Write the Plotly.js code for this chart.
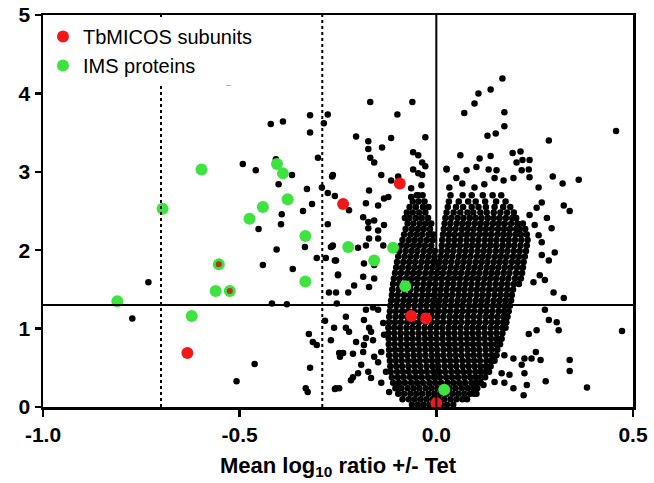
<!DOCTYPE html>
<html>
<head>
<meta charset="utf-8">
<script src="https://cdn.plot.ly/plotly-3.0.1.min.js"></script>
<style>html,body{margin:0;padding:0;background:#fff;}#chart{width:654px;height:483px;}</style>
</head>
<body>
<div id="chart"></div>
<script>
// ---- Data ----
const seriesNames = ["TbMICOS subunits", "IMS proteins"];

// TbMICOS subunits (red)
const redX = [-0.633, -0.237, -0.093, -0.064, -0.026, 0.0];
const redY = [0.69, 2.59, 2.85, 1.16, 1.13, 0.05];

// IMS proteins (green)
const greenX = [-0.528, -0.597, -0.696, -0.405, -0.390, -0.378, -0.441, -0.475, -0.333, -0.553, -0.561, -0.525, -0.333, -0.811, -0.622, -0.224, -0.110, -0.158, -0.079, 0.020];
const greenY = [4.17, 3.03, 2.53, 3.10, 2.98, 2.65, 2.55, 2.40, 2.18, 1.82, 1.48, 1.48, 1.60, 1.35, 1.16, 2.04, 2.03, 1.87, 1.54, 0.22];

// proteins in both groups (red centre on green)
const bothX = [-0.553, -0.525];
const bothY = [1.82, 1.48];

// all other proteins: scattered ones
const blackX = [
 -0.321,-0.276,-0.421,-0.390,-0.321,-0.286,-0.492,-0.459,-0.408,-0.367,-0.401,-0.301,-0.265,-0.329,-0.291,-0.276,-0.258,-0.316,-0.339,-0.393,
 -0.395,-0.452,-0.276,-0.334,-0.265,-0.406,-0.441,-0.365,-0.304,-0.281,-0.258,-0.268,-0.250,-0.273,-0.418,-0.380,-0.253,-0.283,-0.260,-0.324,
 -0.314,-0.304,-0.268,-0.247,-0.462,-0.508,-0.321,-0.332,-0.327,-0.258,-0.247,-0.732,-0.773,
 -0.168,-0.061,-0.099,-0.204,-0.173,-0.115,-0.138,-0.173,-0.168,-0.158,-0.028,-0.059,-0.046,-0.036,-0.028,-0.059,-0.046,-0.036,-0.140,-0.097,
 -0.115,-0.038,-0.064,-0.171,-0.263,-0.046,-0.064,-0.122,0.026,
 -0.222,-0.179,-0.148,-0.133,-0.186,-0.173,-0.158,-0.133,-0.173,-0.148,-0.263,-0.255,-0.199,-0.179,-0.171,-0.148,-0.135,-0.184,-0.158,-0.186,
 -0.158,-0.171,-0.250,-0.224,-0.255,-0.209,
 -0.230,-0.230,-0.222,-0.184,-0.171,-0.166,-0.204,-0.184,-0.179,-0.161,-0.237,-0.212,-0.245,-0.186,-0.158,-0.148,-0.140,-0.191,-0.173,-0.212,
 -0.199,-0.166,-0.217,-0.255,-0.140,-0.128,-0.120,-0.097,-0.161,-0.179,-0.148,-0.135,-0.133,
 0.168,0.138,0.107,0.097,0.071,0.173,0.173,0.151,0.130,0.286,0.457,0.061,0.026,0.110,0.138,0.194,0.214,0.237,0.219,0.204,
 0.235,0.217,0.296,0.321,0.362,0.260,0.077,0.102,0.133,0.153,0.051,0.066,0.097,0.122,0.148,0.171,0.196,0.237,0.033,
 0.324,0.276,0.286,0.306,0.311,0.255,0.472,0.235,0.253,0.265,0.339,0.339,0.224,0.242,0.278,0.383,0.230,0.222,0.196,0.173,
 0.166,0.186,0.148,0.120,0.102,0.217,0.173,0.196,0.224,
 0.324,0.339,0.293,0.281,0.301,0.268,0.286,0.263,0.276,0.298,0.247,0.260,0.268,0.250,0.237,0.268,0.255
];
const blackY = [
 3.72,3.73,3.61,3.64,3.50,3.62,3.10,3.02,3.16,2.96,2.84,3.18,2.94,2.78,2.80,2.73,2.69,2.59,2.50,2.46,
 2.33,2.27,2.33,2.04,2.05,2.01,1.81,1.76,1.90,1.90,1.87,2.04,1.69,1.46,1.32,1.31,1.32,1.10,1.01,0.93,
 0.83,0.79,0.85,0.69,0.55,0.33,0.50,0.24,0.19,0.23,0.24,1.59,1.13,
 3.89,3.89,3.73,3.45,3.39,3.43,3.31,3.29,3.18,3.12,3.44,3.25,3.21,3.12,3.07,3.03,2.98,2.96,2.96,2.94,
 2.89,2.83,2.79,2.76,2.96,2.70,2.68,2.68,3.03,
 2.51,2.60,2.57,2.66,2.42,2.36,2.38,2.32,2.28,2.25,2.06,1.87,2.03,2.06,2.15,2.15,2.06,1.83,1.81,1.66,
 1.64,1.53,1.68,1.46,1.46,1.55,
 1.15,1.01,0.96,1.11,1.01,0.96,0.83,0.79,0.88,0.85,0.69,0.68,0.64,0.70,0.64,0.57,0.70,0.54,0.45,0.38,
 0.43,0.37,0.34,0.24,0.31,0.45,0.19,0.25,1.27,1.24,1.24,1.07,0.92,
 4.19,4.05,4.00,3.87,3.75,3.76,3.58,3.49,3.46,3.40,3.52,3.21,3.04,3.17,3.20,3.24,3.26,3.15,3.15,3.12,
 3.03,3.02,2.94,2.85,2.90,2.80,3.02,3.06,3.03,3.02,2.92,2.85,2.80,2.84,2.92,2.89,2.92,2.93,2.80,
 1.39,1.24,1.11,1.08,0.98,0.98,0.97,0.93,0.70,0.60,0.60,0.46,0.43,0.62,0.33,0.25,0.28,0.15,0.24,0.31,
 0.43,0.41,0.32,0.28,0.17,0.54,0.66,0.62,0.62,
 2.57,2.50,2.28,2.41,1.97,1.94,1.87,1.68,1.62,1.46,1.59,2.19,2.10,2.32,2.45,2.61,2.54
];

// all other proteins: the dense central cloud, one row per -log10 p level
const denseRows = [
 [0.03,[-.062,-.047,-.033,-.018,-.003,.012,.027,.043]],
 [0.10,[-.086,-.07,-.055,-.04,-.025,-.01,.005,.02,.036,.051,.066,.078]],
 [0.17,[-.097,-.082,-.066,-.051,-.036,-.02,-.005,.01,.026,.041,.056,.071,.086,.096]],
 [0.24,[-.104,-.089,-.073,-.058,-.043,-.027,-.012,.003,.019,.034,.049,.065,.08,.094,.104]],
 [0.31,[-.11,-.095,-.08,-.064,-.049,-.034,-.018,-.003,.012,.028,.043,.058,.073,.089,.102,.113]],
 [0.38,[-.113,-.098,-.083,-.067,-.052,-.037,-.021,-.006,.009,.025,.04,.055,.071,.086,.1,.113,.124]],
 [0.45,[-.116,-.1,-.085,-.07,-.054,-.039,-.024,-.008,.007,.022,.038,.053,.068,.083,.099,.113,.126,.134]],
 [0.52,[-.117,-.102,-.087,-.071,-.056,-.041,-.025,-.01,.005,.021,.036,.051,.067,.082,.097,.112,.126,.138]],
 [0.59,[-.118,-.103,-.088,-.072,-.057,-.042,-.026,-.011,.004,.02,.035,.05,.066,.081,.096,.111,.127,.14,.148]],
 [0.66,[-.12,-.104,-.089,-.074,-.058,-.043,-.028,-.012,.003,.018,.034,.049,.064,.08,.095,.11,.126,.141,.153]],
 [0.73,[-.12,-.105,-.09,-.074,-.059,-.044,-.028,-.013,.002,.018,.033,.048,.063,.079,.094,.109,.125,.14,.155]],
 [0.80,[-.121,-.106,-.09,-.075,-.06,-.044,-.029,-.014,.001,.017,.032,.047,.063,.078,.093,.108,.124,.139,.152,.162]],
 [0.87,[-.121,-.106,-.091,-.075,-.06,-.045,-.029,-.014,.001,.016,.032,.047,.062,.078,.093,.108,.123,.139,.154,.166]],
 [0.94,[-.122,-.107,-.091,-.076,-.061,-.045,-.03,-.015,0,.016,.031,.046,.062,.077,.092,.107,.123,.138,.153,.168]],
 [1.01,[-.122,-.107,-.092,-.076,-.061,-.046,-.03,-.015,0,.015,.031,.046,.061,.077,.092,.107,.122,.138,.153,.168,.176]],
 [1.08,[-.12,-.105,-.09,-.074,-.059,-.044,-.028,-.013,.002,.017,.033,.048,.063,.079,.094,.109,.125,.14,.155,.17,.178]],
 [1.15,[-.12,-.104,-.089,-.074,-.058,-.043,-.028,-.012,.003,.018,.034,.049,.064,.08,.095,.11,.126,.141,.156,.171,.181]],
 [1.22,[-.118,-.103,-.087,-.072,-.057,-.041,-.026,-.011,.005,.02,.035,.051,.066,.081,.096,.112,.127,.142,.158,.172,.184]],
 [1.29,[-.117,-.101,-.086,-.071,-.055,-.04,-.025,-.009,.006,.021,.037,.052,.067,.083,.098,.113,.128,.144,.159,.174,.187]],
 [1.36,[-.115,-.1,-.084,-.069,-.054,-.038,-.023,-.008,.008,.023,.038,.054,.069,.084,.1,.115,.13,.146,.161,.176,.19]],
 [1.43,[-.113,-.098,-.082,-.067,-.052,-.036,-.021,-.006,.01,.025,.04,.056,.071,.086,.102,.117,.132,.148,.163,.178,.192]],
 [1.50,[-.112,-.096,-.081,-.066,-.05,-.035,-.02,-.004,.011,.026,.042,.057,.072,.088,.103,.118,.134,.149,.164,.18,.195]],
 [1.57,[-.11,-.095,-.079,-.064,-.049,-.033,-.018,-.003,.013,.028,.043,.059,.074,.089,.105,.12,.135,.151,.166,.181,.197,.21]],
 [1.64,[-.108,-.093,-.077,-.062,-.047,-.031,-.016,-.001,.014,.03,.045,.06,.076,.091,.106,.122,.137,.152,.168,.183,.2,.215]],
 [1.71,[-.105,-.09,-.074,-.059,-.044,-.028,-.013,.002,.017,.033,.048,.063,.079,.094,.109,.125,.14,.155,.171,.186,.203,.218]],
 [1.78,[-.102,-.087,-.071,-.056,-.041,-.025,-.01,.005,.02,.036,.051,.066,.082,.097,.112,.128,.143,.158,.174,.189,.205,.22]],
 [1.85,[-.1,-.084,-.069,-.054,-.038,-.023,-.008,.008,.023,.038,.054,.069,.084,.1,.115,.13,.146,.161,.176,.192,.207,.222]],
 [1.92,[-.097,-.081,-.066,-.051,-.035,-.02,-.005,.011,.026,.041,.057,.072,.087,.103,.118,.133,.149,.164,.179,.195,.21,.225]],
 [1.99,[-.094,-.078,-.063,-.048,-.032,-.017,-.004,.013,.028,.043,.059,.074,.089,.105,.12,.135,.151,.166,.181,.197,.212,.228]],
 [2.06,[-.09,-.075,-.059,-.044,-.029,-.013,.014,.03,.045,.06,.076,.091,.106,.122,.137,.152,.168,.183,.198,.214,.23]],
 [2.13,[-.086,-.07,-.055,-.04,-.024,-.009,.015,.031,.046,.061,.077,.092,.107,.123,.138,.153,.169,.184,.2,.216,.232]],
 [2.20,[-.082,-.066,-.051,-.036,-.02,-.008,.017,.032,.047,.063,.078,.093,.109,.124,.139,.155,.17,.185,.201,.215,.23]],
 [2.27,[-.078,-.062,-.047,-.032,-.016,.019,.034,.049,.065,.08,.095,.111,.126,.141,.157,.172,.187,.203,.212,.226]],
 [2.34,[-.073,-.058,-.042,-.027,-.013,.021,.036,.052,.067,.082,.098,.113,.128,.144,.159,.174,.19,.206,.22]],
 [2.41,[-.08,-.068,-.052,-.037,-.021,.023,.038,.054,.069,.085,.1,.115,.131,.146,.161,.177,.193,.203]],
 [2.48,[-.075,-.06,-.044,-.028,.026,.044,.061,.079,.094,.112,.128,.146,.163,.18,.197]],
 [2.55,[-.068,-.052,-.034,-.02,.029,.05,.068,.09,.107,.126,.148,.17,.188]],
 [2.62,[-.06,-.045,-.03,.032,.057,.081,.1,.124,.152,.176]],
 [2.70,[-.05,-.035,.036,.067,.09,.118,.143,.165]]
];

// reference lines
const pThreshold = 1.3;
const foldThresholds = [-0.7, -0.29];
const zeroLine = 0;

const xTickVals = [-1.0, -0.5, 0.0, 0.5];
const xTickText = ["-1.0", "-0.5", "0.0", "0.5"];
const yTickVals = [0, 1, 2, 3, 4, 5];
const yTickText = ["0", "1", "2", "3", "4", "5"];

// ---- Build ----
const allBX = blackX.slice(), allBY = blackY.slice();
denseRows.forEach(([y, xs]) => xs.forEach(x => { allBX.push(x); allBY.push(y); }));

const FONT = "Liberation Sans, Arial, Helvetica, sans-serif";

const traces = [
  {type: "scatter", mode: "markers", x: allBX, y: allBY, showlegend: false, hoverinfo: "skip",
   marker: {color: "#000", size: 6.5}},
  {type: "scatter", mode: "markers", x: greenX, y: greenY, name: seriesNames[1], legendrank: 2,
   marker: {color: "#3fe33f", size: 12}},
  {type: "scatter", mode: "markers", x: bothX, y: bothY, showlegend: false,
   marker: {color: "#b5321c", size: 6}},
  {type: "scatter", mode: "markers", x: redX, y: redY, name: seriesNames[0], legendrank: 1,
   marker: {color: "#f01818", size: 12}}
];

const shapes = [
  {type: "line", xref: "x", yref: "y", x0: -1, x1: 0.5, y0: pThreshold, y1: pThreshold, line: {color: "#000", width: 2}},
  {type: "line", xref: "x", yref: "y", x0: zeroLine, x1: zeroLine, y0: 0, y1: 5, line: {color: "#000", width: 2}}
].concat(foldThresholds.map(v => ({type: "line", xref: "x", yref: "y", x0: v, x1: v, y0: 0, y1: 5,
  line: {color: "#000", width: 2, dash: "dot"}})));

const layout = {
  width: 654, height: 483,
  margin: {l: 43, r: 21, t: 15, b: 76},
  paper_bgcolor: "#fff", plot_bgcolor: "#fff",
  font: {family: FONT, color: "#000"},
  showlegend: true,
  legend: {x: 0, y: 0.995, xanchor: "left", yanchor: "top", bgcolor: "#fff",
           font: {family: FONT, size: 20, color: "#000"}, itemwidth: 30, tracegroupgap: 0},
  xaxis: {range: [-1, 0.5], tickvals: xTickVals, ticktext: xTickText,
          showgrid: false, zeroline: false, showline: true, linecolor: "#000", linewidth: 2.5, mirror: true,
          ticks: "outside", ticklen: 7, tickwidth: 2.5, tickcolor: "#000",
          tickfont: {family: FONT, size: 21, weight: "bold", color: "#000"},
          title: {text: "Mean log<sub>10</sub> ratio +/- Tet", font: {family: FONT, size: 22, weight: "bold", color: "#000"}, standoff: 13}},
  yaxis: {range: [0, 5], tickvals: yTickVals, ticktext: yTickText,
          showgrid: false, zeroline: false, showline: true, linecolor: "#000", linewidth: 2.5, mirror: true,
          ticks: "outside", ticklen: 6, tickwidth: 2.5, tickcolor: "#000",
          tickfont: {family: FONT, size: 21, weight: "bold", color: "#000"}},
  shapes: shapes
};

Plotly.newPlot("chart", traces, layout, {displayModeBar: false, staticPlot: true});
</script>
</body>
</html>
